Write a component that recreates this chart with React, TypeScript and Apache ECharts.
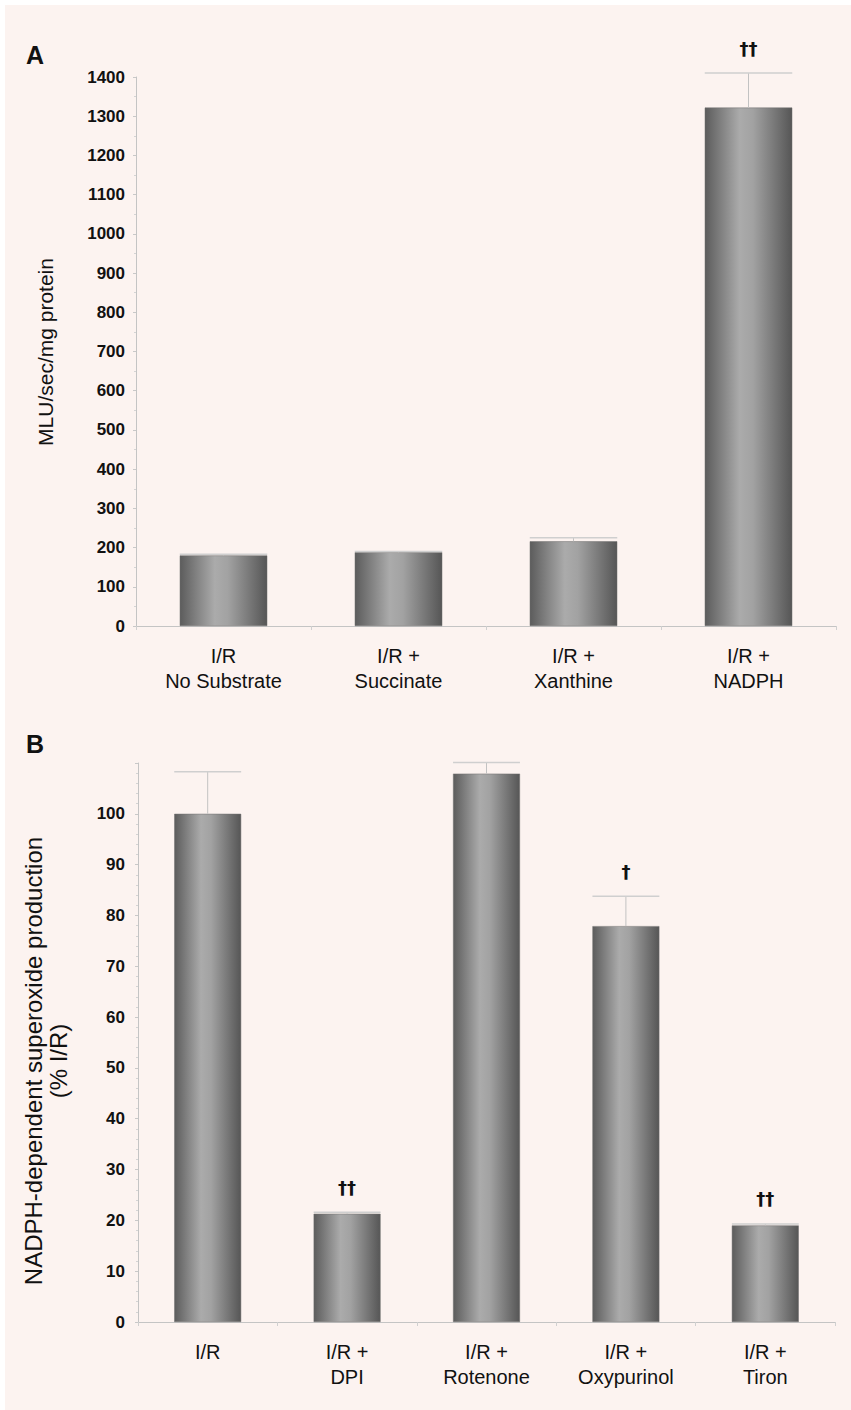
import React, { useEffect, useRef } from "react";
import * as echarts from "echarts";

const catsA = ["I/R\nNo Substrate", "I/R +\nSuccinate", "I/R +\nXanthine", "I/R +\nNADPH"];
const valsA = [180, 188, 216, 1322];
const errA = [3, 2, 9, 88];
const sigA = ["", "", "", "††"];

const catsB = ["I/R", "I/R +\nDPI", "I/R +\nRotenone", "I/R +\nOxypurinol", "I/R +\nTiron"];
const valsB = [100, 21.3, 107.9, 77.9, 19.0];
const errB = [8.3, 0.3, 2.2, 5.9, 0.3];
const sigB = ["", "††", "", "†", "††"];

const FONT = "'Liberation Sans', Arial, sans-serif";
const NARROW = "'Liberation Sans Narrow', 'Liberation Sans', Arial, sans-serif";

const barGradient = () =>
  new echarts.graphic.LinearGradient(0, 0, 1, 0, [
    { offset: 0, color: "#5c5c5c" },
    { offset: 0.4, color: "#ababab" },
    { offset: 0.55, color: "#a2a2a2" },
    { offset: 1, color: "#565656" },
  ]);

function errSeries(idx: number, vals: number[], errs: number[], sigs: string[], frac: number) {
  return {
    type: "custom",
    xAxisIndex: idx,
    yAxisIndex: idx,
    z: 5,
    silent: true,
    encode: { x: 0, y: 1 },
    data: vals.map((v, i) => [i, v, errs[i]]),
    renderItem: (params: any, api: any) => {
      const i = api.value(0);
      const v = api.value(1);
      const e = api.value(2);
      const base = api.coord([i, v]);
      const top = api.coord([i, v + e]);
      const bw = api.size([1, 0])[0] * frac;
      const children: any[] = [
        {
          type: "line",
          shape: { x1: base[0], y1: base[1], x2: top[0], y2: top[1] },
          style: { stroke: "#c2c2c2", lineWidth: 1 },
        },
        {
          type: "line",
          shape: { x1: top[0] - bw / 2, y1: top[1], x2: top[0] + bw / 2, y2: top[1] },
          style: { stroke: "#cfcfcf", lineWidth: 1.5 },
        },
      ];
      const s = sigs[params.dataIndex];
      if (s) {
        children.push({
          type: "text",
          x: top[0],
          y: top[1] - 25,
          style: {
            text: s,
            align: "center",
            verticalAlign: "middle",
            font: "bold 18px 'DejaVu Sans', sans-serif",
            fill: "#111",
          },
        });
      }
      return { type: "group", children };
    },
  };
}

export default function App() {
  const ref = useRef<HTMLDivElement>(null);
  useEffect(() => {
    if (!ref.current) return;
    const chart = echarts.init(ref.current, null, { renderer: "svg" });
    const axisLine = { show: true, lineStyle: { color: "#c4c4c4", width: 1 } };
    const yLabel = { color: "#111", fontFamily: FONT, fontWeight: "bold", fontSize: 17, margin: 11 };
    const xLabel = { color: "#111", fontFamily: NARROW, fontSize: 20, lineHeight: 25, margin: 17, interval: 0 };
    chart.setOption({
      animation: false,
      backgroundColor: "#ffffff",
      graphic: [
        { type: "rect", z: -10, shape: { x: 5, y: 5, width: 846, height: 1405 }, style: { fill: "#fcf3f0" } },
        { type: "text", x: 26, y: 42, style: { text: "A", font: `bold 25px ${FONT}`, fill: "#111" } },
        { type: "text", x: 26, y: 731, style: { text: "B", font: `bold 25px ${FONT}`, fill: "#111" } },
        {
          type: "text", x: 45, y: 352, rotation: Math.PI / 2,
          style: { text: "MLU/sec/mg protein", align: "center", verticalAlign: "middle", font: `21px ${FONT}`, fill: "#111" },
        },
        {
          type: "text", x: 46, y: 1061, rotation: Math.PI / 2,
          style: {
            text: "NADPH-dependent superoxide production\n(% I/R)",
            align: "center", verticalAlign: "middle", lineHeight: 25,
            font: `24px ${FONT}`, fill: "#111",
          },
        },
      ],
      grid: [
        { left: 136, top: 77, width: 700, height: 549 },
        { left: 138, top: 763, width: 697, height: 559 },
      ],
      xAxis: [
        {
          type: "category", gridIndex: 0, data: catsA,
          axisLine, axisTick: { show: true, length: 4, lineStyle: { color: "#d0d0d0" } },
          axisLabel: xLabel,
        },
        {
          type: "category", gridIndex: 1, data: catsB,
          axisLine, axisTick: { show: true, length: 4, lineStyle: { color: "#d0d0d0" } },
          axisLabel: xLabel,
        },
      ],
      yAxis: [
        {
          type: "value", gridIndex: 0, min: 0, max: 1400, interval: 100,
          axisLine, splitLine: { show: false },
          axisTick: { show: true, length: 3, lineStyle: { color: "#c8c8c8" } },
          minorTick: { show: true, splitNumber: 2, length: 2, lineStyle: { color: "#d4d4d4" } },
          axisLabel: { ...yLabel, formatter: (v: number) => String(v) },
        },
        {
          type: "value", gridIndex: 1, min: 0, max: 110, interval: 10,
          axisLine, splitLine: { show: false },
          axisTick: { show: true, length: 3, lineStyle: { color: "#c8c8c8" } },
          minorTick: { show: true, splitNumber: 5, length: 2, lineStyle: { color: "#d4d4d4" } },
          axisLabel: { ...yLabel, margin: 13, formatter: (v: number) => (v > 100 ? "" : String(v)) },
        },
      ],
      series: [
        {
          type: "bar", xAxisIndex: 0, yAxisIndex: 0, data: valsA, barWidth: "50%",
          itemStyle: { color: barGradient(), borderColor: "#6e6e6e", borderWidth: 0.5 },
        },
        errSeries(0, valsA, errA, sigA, 0.5),
        {
          type: "bar", xAxisIndex: 1, yAxisIndex: 1, data: valsB, barWidth: "48%",
          itemStyle: { color: barGradient(), borderColor: "#6e6e6e", borderWidth: 0.5 },
        },
        errSeries(1, valsB, errB, sigB, 0.48),
      ],
    });
    return () => chart.dispose();
  }, []);
  return <div ref={ref} style={{ position: "absolute", left: 0, top: 0, width: 851, height: 1410 }} />;
}
